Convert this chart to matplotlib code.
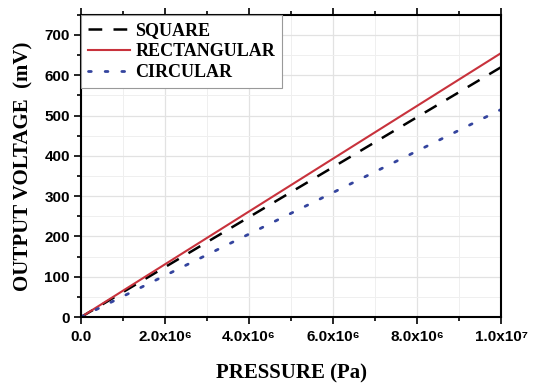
import numpy as np
import matplotlib
matplotlib.use("Agg")
import matplotlib.pyplot as plt
from matplotlib.ticker import MultipleLocator, FuncFormatter

pressure = [0.0, 1.0e7]
square = [0.0, 620.0]
rectangular = [0.0, 655.0]
circular = [0.0, 515.0]

SUP = str.maketrans("0123456789", "⁰¹²³⁴⁵⁶⁷⁸⁹")


def sci_fmt(v, pos):
    if v == 0:
        return "0.0"
    e = int(np.floor(np.log10(abs(v))))
    m = v / 10 ** e
    return "%.1fx10%s" % (m, str(e).translate(SUP))


fig = plt.figure(figsize=(5.33, 3.9), dpi=100)
ax = fig.add_axes([0.152, 0.187, 0.788, 0.775])

ax.plot(pressure, square, color="black", lw=1.8, dashes=(5.5, 4.5), label="SQUARE")
ax.plot(pressure, rectangular, color="#c8323c", lw=1.5, label="RECTANGULAR")
ax.plot(pressure, circular, color="#34449e", lw=2.0, dashes=(1, 5),
        dash_capstyle="round", label="CIRCULAR")

ax.set_xlim(0, 1.0e7)
ax.set_ylim(0, 750)
ax.xaxis.set_major_locator(MultipleLocator(2e6))
ax.xaxis.set_minor_locator(MultipleLocator(1e6))
ax.yaxis.set_major_locator(MultipleLocator(100))
ax.yaxis.set_minor_locator(MultipleLocator(50))
ax.xaxis.set_major_formatter(FuncFormatter(sci_fmt))

ax.grid(True, which="major", color="#e2e2e2", lw=0.9)
ax.grid(True, which="minor", color="#efefef", lw=0.7)
ax.set_axisbelow(True)

for s in ax.spines.values():
    s.set_linewidth(1.5)
ax.tick_params(which="both", direction="out", width=1.2, top=True, right=False)
ax.tick_params(which="major", length=5)
ax.tick_params(which="minor", length=3)
for lab in ax.get_xticklabels() + ax.get_yticklabels():
    lab.set_fontfamily(["Liberation Sans", "DejaVu Sans"])
    lab.set_fontweight("bold")
    lab.set_fontsize(11)
ax.tick_params(axis="x", pad=4)
ax.tick_params(axis="y", pad=3)

ax.set_xlabel("PRESSURE (Pa)", family="Liberation Serif", weight="bold", fontsize=15, labelpad=14)
ax.set_ylabel("OUTPUT VOLTAGE  (mV)", family="Liberation Serif", weight="bold", fontsize=15, labelpad=8)

leg = ax.legend(loc="upper left", borderaxespad=0, fancybox=False, framealpha=1,
                edgecolor="#999999", prop={"family": "Liberation Serif", "weight": "bold", "size": 13},
                handlelength=2.3, handletextpad=0.3, labelspacing=0.22, borderpad=0.4)
leg.get_frame().set_linewidth(0.8)

fig.savefig("out.png", dpi=100)
